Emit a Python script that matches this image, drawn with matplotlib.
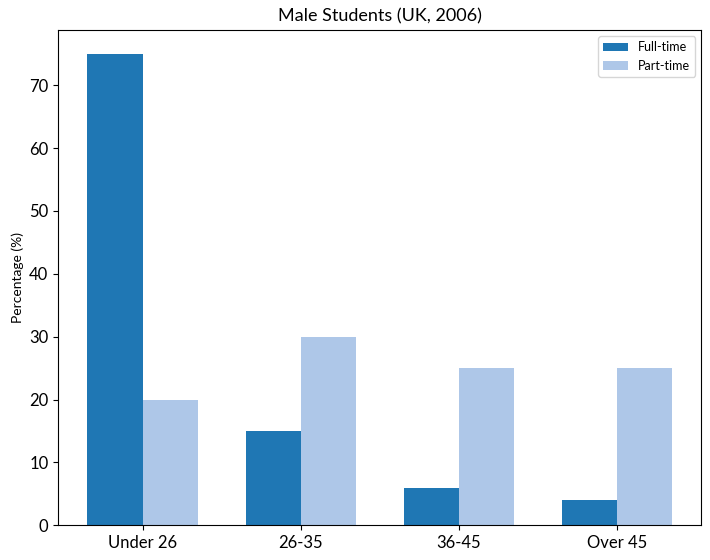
import matplotlib
matplotlib.use("Agg")
import matplotlib.pyplot as plt
import numpy as np

plt.rcParams['font.family'] = ['Lato', 'DejaVu Sans']

categories = ["Under 26", "26-35", "36-45", "Over 45"]
full_time = [75, 15, 6, 4]
part_time = [20, 30, 25, 25]

fig, ax = plt.subplots(figsize=(7.1, 5.6), dpi=100)
x = np.arange(len(categories))
w = 0.35
ax.bar(x - w/2, full_time, w, color="#1f77b4", label="Full-time")
ax.bar(x + w/2, part_time, w, color="#aec7e8", label="Part-time")
ax.set_xticks(x)
ax.set_xticklabels(categories, fontsize=12)
ax.tick_params(axis='y', labelsize=12)
ax.set_ylabel("Percentage (%)", fontsize=10)
ax.set_title("Male Students (UK, 2006)", fontsize=13)
ax.legend(fontsize=9)
fig.subplots_adjust(left=0.082, right=0.988, top=0.946, bottom=0.062)
fig.savefig("out.png")
